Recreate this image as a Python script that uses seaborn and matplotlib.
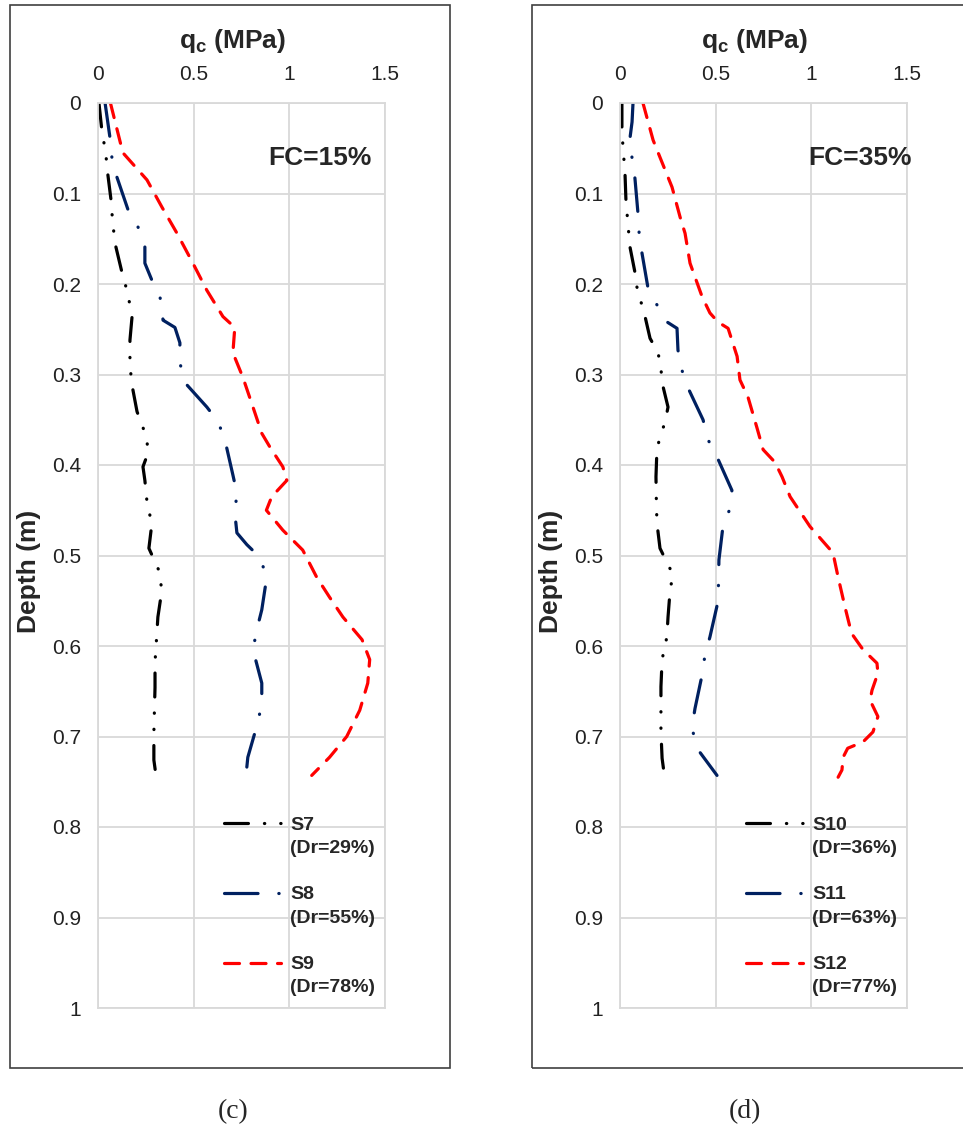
import matplotlib
matplotlib.use("Agg")
import matplotlib.pyplot as plt
import seaborn as sns
import pandas as pd
from matplotlib.patches import Rectangle
from matplotlib.ticker import FuncFormatter

# values: depth (m) vs cone resistance qc (MPa)
s7_depth = [0, 0.03, 0.055, 0.08, 0.107, 0.13, 0.155, 0.187, 0.21, 0.236, 0.262, 0.29, 0.312, 0.341, 0.37,
            0.387, 0.402, 0.417, 0.445, 0.464, 0.492, 0.515, 0.538, 0.568, 0.595, 0.618, 0.646, 0.67, 0.696, 0.726, 0.743]
s7_qc = [0.005, 0.02, 0.04, 0.052, 0.068, 0.076, 0.089, 0.125, 0.155, 0.178, 0.167, 0.167, 0.178, 0.204, 0.255,
         0.261, 0.235, 0.245, 0.258, 0.282, 0.266, 0.315, 0.334, 0.313, 0.305, 0.298, 0.298, 0.295, 0.292, 0.292, 0.303]

s8_depth = [0, 0.039, 0.061, 0.082, 0.118, 0.137, 0.159, 0.177, 0.196, 0.214, 0.24, 0.248, 0.265, 0.287, 0.309, 0.336,
            0.352, 0.372, 0.411, 0.431, 0.453, 0.475, 0.488, 0.502, 0.524, 0.56, 0.582, 0.604, 0.641, 0.663, 0.684, 0.723, 0.744]
s8_qc = [0.037, 0.063, 0.073, 0.099, 0.157, 0.209, 0.245, 0.245, 0.282, 0.324, 0.34, 0.402, 0.428, 0.428, 0.454, 0.569,
         0.627, 0.663, 0.705, 0.726, 0.715, 0.726, 0.778, 0.846, 0.882, 0.856, 0.83, 0.81, 0.856, 0.856, 0.836, 0.783, 0.773]

s9_depth = [0, 0.055, 0.085, 0.115, 0.144, 0.177, 0.207, 0.236, 0.248, 0.276, 0.303, 0.336, 0.365, 0.38, 0.402, 0.417,
            0.435, 0.45, 0.472, 0.494, 0.524, 0.546, 0.568, 0.593, 0.615, 0.641, 0.671, 0.70, 0.723, 0.743]
s9_qc = [0.065, 0.13, 0.256, 0.334, 0.413, 0.496, 0.569, 0.653, 0.715, 0.705, 0.757, 0.81, 0.856, 0.898, 0.966, 0.987,
         0.908, 0.88, 0.966, 1.07, 1.143, 1.21, 1.28, 1.38, 1.42, 1.41, 1.368, 1.30, 1.21, 1.117]

s10_depth = [0, 0.03, 0.05, 0.077, 0.107, 0.13, 0.159, 0.187, 0.203, 0.22, 0.236, 0.26, 0.276, 0.293, 0.309, 0.336,
             0.353, 0.369, 0.383, 0.413, 0.44, 0.464, 0.492, 0.508, 0.521, 0.538, 0.568, 0.59, 0.615, 0.645, 0.695, 0.724, 0.74]
s10_qc = [0.01, 0.01, 0.016, 0.026, 0.031, 0.04, 0.052, 0.078, 0.088, 0.11, 0.131, 0.157, 0.199, 0.214, 0.22, 0.251,
          0.235, 0.209, 0.193, 0.188, 0.19, 0.193, 0.209, 0.246, 0.277, 0.262, 0.251, 0.245, 0.22, 0.214, 0.214, 0.22, 0.23]

s11_depth = [0, 0.021, 0.039, 0.061, 0.083, 0.122, 0.144, 0.166, 0.204, 0.223, 0.242, 0.249, 0.273, 0.293, 0.315, 0.35,
             0.372, 0.391, 0.428, 0.448, 0.468, 0.505, 0.53, 0.551, 0.59, 0.61, 0.632, 0.669, 0.69, 0.713, 0.743]
s11_qc = [0.068, 0.063, 0.052, 0.063, 0.078, 0.094, 0.1, 0.115, 0.146, 0.193, 0.246, 0.298, 0.303, 0.32, 0.356, 0.434,
          0.46, 0.507, 0.585, 0.575, 0.538, 0.517, 0.515, 0.512, 0.47, 0.444, 0.429, 0.392, 0.376, 0.402, 0.507]

s12_depth = [0, 0.041, 0.06, 0.093, 0.126, 0.144, 0.177, 0.214, 0.232, 0.242, 0.249, 0.28, 0.306, 0.325, 0.359, 0.383,
             0.397, 0.413, 0.435, 0.468, 0.497, 0.524, 0.557, 0.586, 0.604, 0.619, 0.63, 0.649, 0.66, 0.678, 0.695,
             0.706, 0.713, 0.723, 0.737, 0.745]
s12_qc = [0.12, 0.173, 0.209, 0.272, 0.314, 0.34, 0.366, 0.429, 0.47, 0.512, 0.565, 0.612, 0.627, 0.669, 0.716, 0.748,
          0.81, 0.847, 0.889, 0.993, 1.113, 1.14, 1.176, 1.21, 1.27, 1.343, 1.348, 1.317, 1.307, 1.348, 1.322,
          1.27, 1.19, 1.166, 1.16, 1.14]

labels_c = ["S7\n(Dr=29%)", "S8\n(Dr=55%)", "S9\n(Dr=78%)"]
labels_d = ["S10\n(Dr=36%)", "S11\n(Dr=63%)", "S12\n(Dr=77%)"]

sns.set_theme(style="white")
plt.rcParams["font.family"] = ["Liberation Sans", "DejaVu Sans"]
plt.rcParams["mathtext.fontset"] = "custom"
plt.rcParams["mathtext.rm"] = "Liberation Sans"
plt.rcParams["mathtext.bf"] = "Liberation Sans:bold"

colors = ["#000000", "#002060", "#ff0000"]
styles = [(0, (7.5, 5, 0.1, 5, 0.1, 5)), (0, (10.5, 6.5, 0.1, 6.5)), (0, (4.7, 3.6))]

fig = plt.figure(figsize=(9.63, 11.28), dpi=100)

# axes left px, series, labels, FC text, FC right edge (axes frac), caption, caption x px, frame left px
panels = [
    (98, [(s7_qc, s7_depth), (s8_qc, s8_depth), (s9_qc, s9_depth)], labels_c, "FC=15%", 0.955, "(c)", 233, 10),
    (620, [(s10_qc, s10_depth), (s11_qc, s11_depth), (s12_qc, s12_depth)], labels_d, "FC=35%", 1.015, "(d)", 745, 532),
]

W, H = 963, 1128
for left_px, series, labels, fc, fc_x, cap, cap_px, box_px in panels:
    # outer chart frame
    fig.add_artist(Rectangle((box_px / W, 1 - 1068 / H), 440 / W, 1063 / H, transform=fig.transFigure,
                             fill=False, ec="#404040", lw=1.2))
    ax = fig.add_axes([left_px / W, 1 - 1008 / H, 287 / W, 905 / H])
    for (qc, depth), lab, c, ls in zip(series, labels, colors, styles):
        df = pd.DataFrame({"qc": qc, "depth": depth})
        sns.lineplot(data=df, x="qc", y="depth", sort=False, estimator=None, ax=ax, color=c,
                     linestyle=ls, lw=2.3, dash_capstyle="round", solid_capstyle="round", label=lab)
    ax.set_xlim(0, 1.5)
    ax.set_ylim(1, 0)
    ax.set_xticks([0, 0.5, 1, 1.5])
    ax.set_yticks([i / 10 for i in range(11)])
    fmt = FuncFormatter(lambda v, p: "%g" % round(v, 2))
    ax.xaxis.set_major_formatter(fmt)
    ax.yaxis.set_major_formatter(fmt)
    ax.xaxis.tick_top()
    ax.xaxis.set_label_position("top")
    ax.tick_params(length=0, labelsize=15, colors="#222222")
    ax.tick_params(axis="x", pad=14)
    ax.tick_params(axis="y", pad=12)
    ax.grid(True, color="#d9d9d9", lw=1.3)
    for sp in ax.spines.values():
        sp.set_color("#d9d9d9")
        sp.set_linewidth(1.3)
    ax.set_xlabel(r"$\mathbf{q_c}$ (MPa)", fontsize=19, fontweight="bold")
    ax.xaxis.set_label_coords(0.47, 1.061)
    ax.set_ylabel("Depth (m)", fontsize=19, fontweight="bold")
    ax.yaxis.set_label_coords(-0.197, 0.483)
    ax.text(fc_x, 0.939, fc, transform=ax.transAxes, ha="right", va="center", fontsize=19, fontweight="bold")

    leg = ax.legend(loc="lower right", bbox_to_anchor=(1.007, 0.0), frameon=False, handlelength=2.9,
                    handletextpad=0.5, labelspacing=1.5, borderaxespad=0.2,
                    prop={"weight": "bold", "size": 14})
    for t in leg.get_texts():
        t.set_linespacing(1.5)
    # put the handle next to the first line of each two-line label
    try:
        for col in leg._legend_handle_box.get_children():
            for row in col.get_children():
                row.align = "top"
    except AttributeError:
        pass

    fig.text(cap_px / W, 1 - 1112 / H, cap, ha="center", va="center", fontsize=20,
             family=["Liberation Serif", "DejaVu Serif"])

fig.savefig("out.png", dpi=100)
